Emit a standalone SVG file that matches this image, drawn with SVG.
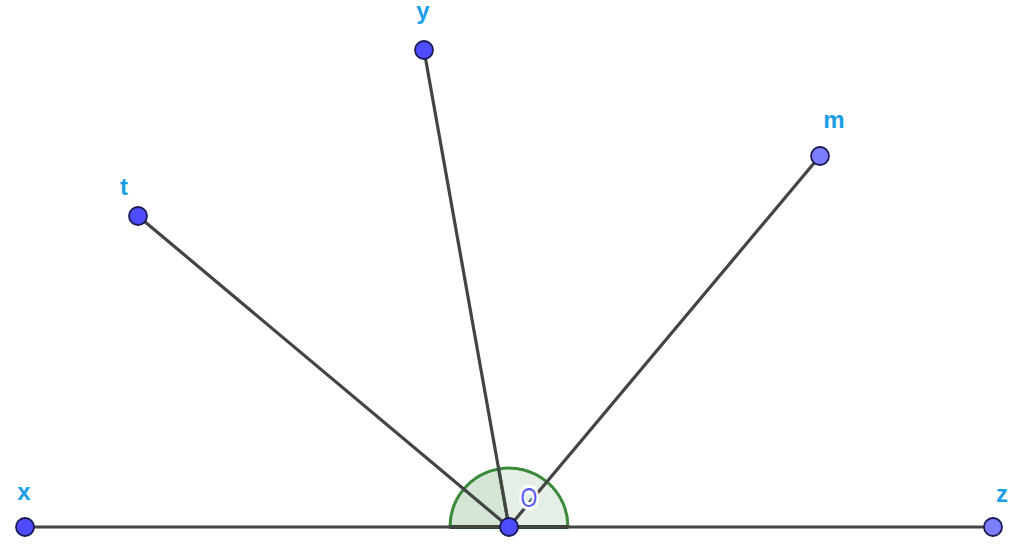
<svg xmlns="http://www.w3.org/2000/svg" width="1024" height="552" viewBox="0 0 1024 552">
<style>
.seg{stroke:#444;stroke-width:3.2;fill:none;stroke-linecap:round}
.pt{stroke:#1a1a55;stroke-width:1.8}
.pa{fill:#4d4dff}
.pb{fill:#7d7dff}
.lbl{font-family:"Liberation Sans",Arial,sans-serif;font-weight:bold;font-size:24px;fill:#1a9ee6;text-anchor:middle}
.arc{stroke:#3a8a3a;stroke-width:3}
</style>
<rect width="1024" height="552" fill="#fff"/>
<g id="angles">
<path class="arc" d="M509,527 L450,527 A59,59 0 0 1 498.8,468.9 Z" fill="#d6e6d6"/>
<path class="arc" d="M509,527 L498.8,468.9 A59,59 0 0 1 568,527 Z" fill="#e6efe6"/>
<line x1="450" y1="527" x2="568" y2="527" stroke="#1f4a1f" stroke-width="4"/>
</g>
<g id="connectors">
<line class="seg" x1="25" y1="527" x2="993" y2="527"/>
<line class="seg" x1="509" y1="527" x2="138" y2="216"/>
<line class="seg" x1="509" y1="527" x2="424" y2="50"/>
<line class="seg" x1="509" y1="527" x2="820" y2="156"/>
</g>
<g id="label-O">
<text x="529" y="507" font-family="Liberation Sans,Arial,sans-serif" font-size="27" fill="#5a5aff" stroke="#fff" stroke-width="6" paint-order="stroke" text-anchor="middle" transform="translate(529 497) scale(0.8 1) translate(-529 -497)">O</text>
</g>
<g id="node-x"><circle class="pt pa" cx="25" cy="527" r="9"/><text class="lbl" x="24" y="500">x</text></g>
<g id="node-z"><circle class="pt pb" cx="993" cy="527" r="9"/><text class="lbl" x="1002" y="502">z</text></g>
<g id="node-t"><circle class="pt pa" cx="138" cy="216" r="9"/><text class="lbl" x="124" y="195">t</text></g>
<g id="node-y"><circle class="pt pa" cx="424" cy="50" r="9"/><text class="lbl" x="423" y="19">y</text></g>
<g id="node-m"><circle class="pt pb" cx="820" cy="156" r="9"/><text class="lbl" x="834" y="128">m</text></g>
<g id="node-O"><circle class="pt pa" cx="509" cy="527" r="9"/></g>
</svg>
